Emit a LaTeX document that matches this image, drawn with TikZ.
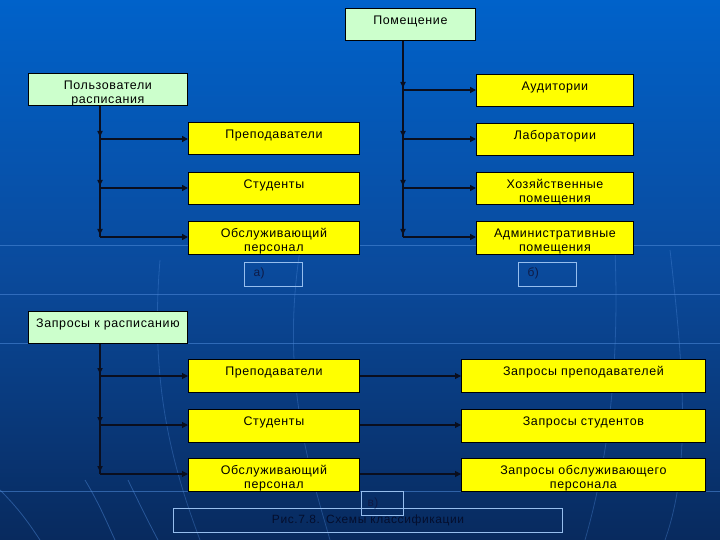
\documentclass[tikz,border=0pt]{standalone}
\usepackage{fontspec}
\setmainfont{Liberation Sans}[LetterSpace=5]
\usetikzlibrary{arrows.meta,calc}
\definecolor{bgtop}{RGB}{0,98,202}
\definecolor{bgmid}{RGB}{10,74,156}
\definecolor{bgbot}{RGB}{8,42,94}
\definecolor{lgreen}{RGB}{204,255,204}
\definecolor{yel}{RGB}{255,255,0}
\definecolor{lineblk}{RGB}{10,14,30}
\definecolor{lblframe}{RGB}{150,190,238}
\definecolor{lbltext}{RGB}{14,26,70}
\definecolor{captext}{RGB}{4,14,45}
\definecolor{faint}{RGB}{80,140,220}
\tikzset{
  box/.style={draw=black, line width=0.8bp, inner sep=0pt, text height=16.5bp, text depth=16bp,
    align=center, anchor=north west, font=\fontsize{12.5}{13.5}\selectfont, text=black},
  gbox/.style={box, fill=lgreen},
  ybox/.style={box, fill=yel},
  lbl/.style={draw=lblframe, line width=1bp, inner sep=0pt, anchor=north west, text height=14bp,
    text depth=10bp, font=\fontsize{12}{14}\selectfont, text=lbltext},
  thick conn/.style={draw=lineblk, line width=2.2bp},
  thin conn/.style={draw=lineblk, line width=1.1bp},
  tipR/.style={-{Triangle[length=6bp,width=6bp]}},
  tipD/.style={-{Triangle[length=6bp,width=5bp]}},
  bgline/.style={draw=faint, line width=0.8bp, opacity=0.55},
}
\begin{document}
\begin{tikzpicture}[x=1bp,y=-1bp]
\useasboundingbox (0,0) rectangle (720,540);
\shade[top color=bgtop, bottom color=bgbot, middle color=bgmid] (0,0) rectangle (720,540);
% faint background decoration
\foreach \yy in {245,294,343,491} \draw[bgline] (0,\yy) -- (720,\yy);
\draw[bgline, opacity=0.35] (160,260) .. controls (150,380) and (170,460) .. (200,540);
\draw[bgline, opacity=0.35] (300,250) .. controls (280,380) and (310,470) .. (330,540);
\draw[bgline, opacity=0.35] (615,250) .. controls (620,380) and (605,470) .. (585,540);
\draw[bgline, opacity=0.35] (670,250) .. controls (685,380) and (690,470) .. (665,540);
\draw[bgline, opacity=0.45] (0,490) .. controls (20,510) and (30,525) .. (40,540);
\draw[bgline, opacity=0.45] (85,480) .. controls (100,505) and (108,525) .. (115,540);
\draw[bgline, opacity=0.45] (128,480) .. controls (140,505) and (150,525) .. (158,540);

% ---- a) Пользователи расписания
\node[gbox, text width=159bp] (polz) at (28,73) {Пользователи\\расписания};
\node[ybox, text width=171bp] (prep) at (188,122) {Преподаватели};
\node[ybox, text width=171bp] (stud) at (188,172) {Студенты};
\node[ybox, text width=171bp] (obsl) at (188,221) {Обслуживающий\\персонал};
\coordinate (a1) at (100,139);
\coordinate (a2) at (100,188);
\coordinate (a3) at (100,237);
\draw[thick conn] (polz.south -| a1) -- (a3);
\foreach \j in {a1,a2,a3} \draw[thick conn, tipD] ([yshift=9bp]\j) -- ([yshift=2bp]\j);
\draw[thick conn, tipR] (a1) -- (a1 -| prep.west);
\draw[thick conn, tipR] (a2) -- (a2 -| stud.west);
\draw[thick conn, tipR] (a3) -- (a3 -| obsl.west);
\node[lbl, minimum width=58bp, text width=40bp, align=left] (la) at (244,262) {а)};

% ---- б) Помещение
\node[gbox, text width=130bp, text depth=15.5bp] (pom) at (345,8) {Помещение};
\node[ybox, text width=157bp] (aud) at (476,74) {Аудитории};
\node[ybox, text width=157bp] (lab) at (476,123) {Лаборатории};
\node[ybox, text width=157bp] (hoz) at (476,172) {Хозяйственные\\помещения};
\node[ybox, text width=157bp] (adm) at (476,221) {Административные\\помещения};
\coordinate (b1) at (403,90);
\coordinate (b2) at (403,139);
\coordinate (b3) at (403,188);
\coordinate (b4) at (403,237);
\draw[thick conn] (pom.south -| b1) -- (b4);
\foreach \j in {b1,b2,b3,b4} \draw[thick conn, tipD] ([yshift=9bp]\j) -- ([yshift=2bp]\j);
\draw[thick conn, tipR] (b1) -- (b1 -| aud.west);
\draw[thick conn, tipR] (b2) -- (b2 -| lab.west);
\draw[thick conn, tipR] (b3) -- (b3 -| hoz.west);
\draw[thick conn, tipR] (b4) -- (b4 -| adm.west);
\node[lbl, minimum width=58bp, text width=40bp, align=left] (lb) at (518,262) {б)};

% ---- в) Запросы к расписанию
\node[gbox, text width=159bp, text depth=15.5bp] (zapr) at (28,311) {Запросы к расписанию};
\node[ybox, text width=171bp] (prep2) at (188,359) {Преподаватели};
\node[ybox, text width=171bp] (stud2) at (188,409) {Студенты};
\node[ybox, text width=171bp] (obsl2) at (188,458) {Обслуживающий\\персонал};
\node[ybox, text width=244bp] (zp) at (461,359) {Запросы преподавателей};
\node[ybox, text width=244bp] (zs) at (461,409) {Запросы студентов};
\node[ybox, text width=244bp] (zo) at (461,458) {Запросы обслуживающего\\персонала};
\coordinate (c1) at (100,376);
\coordinate (c2) at (100,425);
\coordinate (c3) at (100,474);
\draw[thick conn] (zapr.south -| c1) -- (c3);
\foreach \j in {c1,c2,c3} \draw[thick conn, tipD] ([yshift=9bp]\j) -- ([yshift=2bp]\j);
\draw[thin conn, tipR] (c1) -- (c1 -| prep2.west);
\draw[thin conn, tipR] (c2) -- (c2 -| stud2.west);
\draw[thin conn, tipR] (c3) -- (c3 -| obsl2.west);
\draw[thin conn, tipR] (prep2.east |- c1) -- (c1 -| zp.west);
\draw[thin conn, tipR] (stud2.east |- c2) -- (c2 -| zs.west);
\draw[thin conn, tipR] (obsl2.east |- c3) -- (c3 -| zo.west);

% caption
\node[lbl, minimum width=389bp, text width=389bp, align=center, text height=15bp, text depth=9bp, text=captext] (cap) at (173,508) {Рис.7.8. Схемы классификации};
\node[lbl, minimum width=42bp, text width=30bp, align=left, text height=15bp, text depth=9bp] (lv) at (361,491) {в)};
\end{tikzpicture}
\end{document}
